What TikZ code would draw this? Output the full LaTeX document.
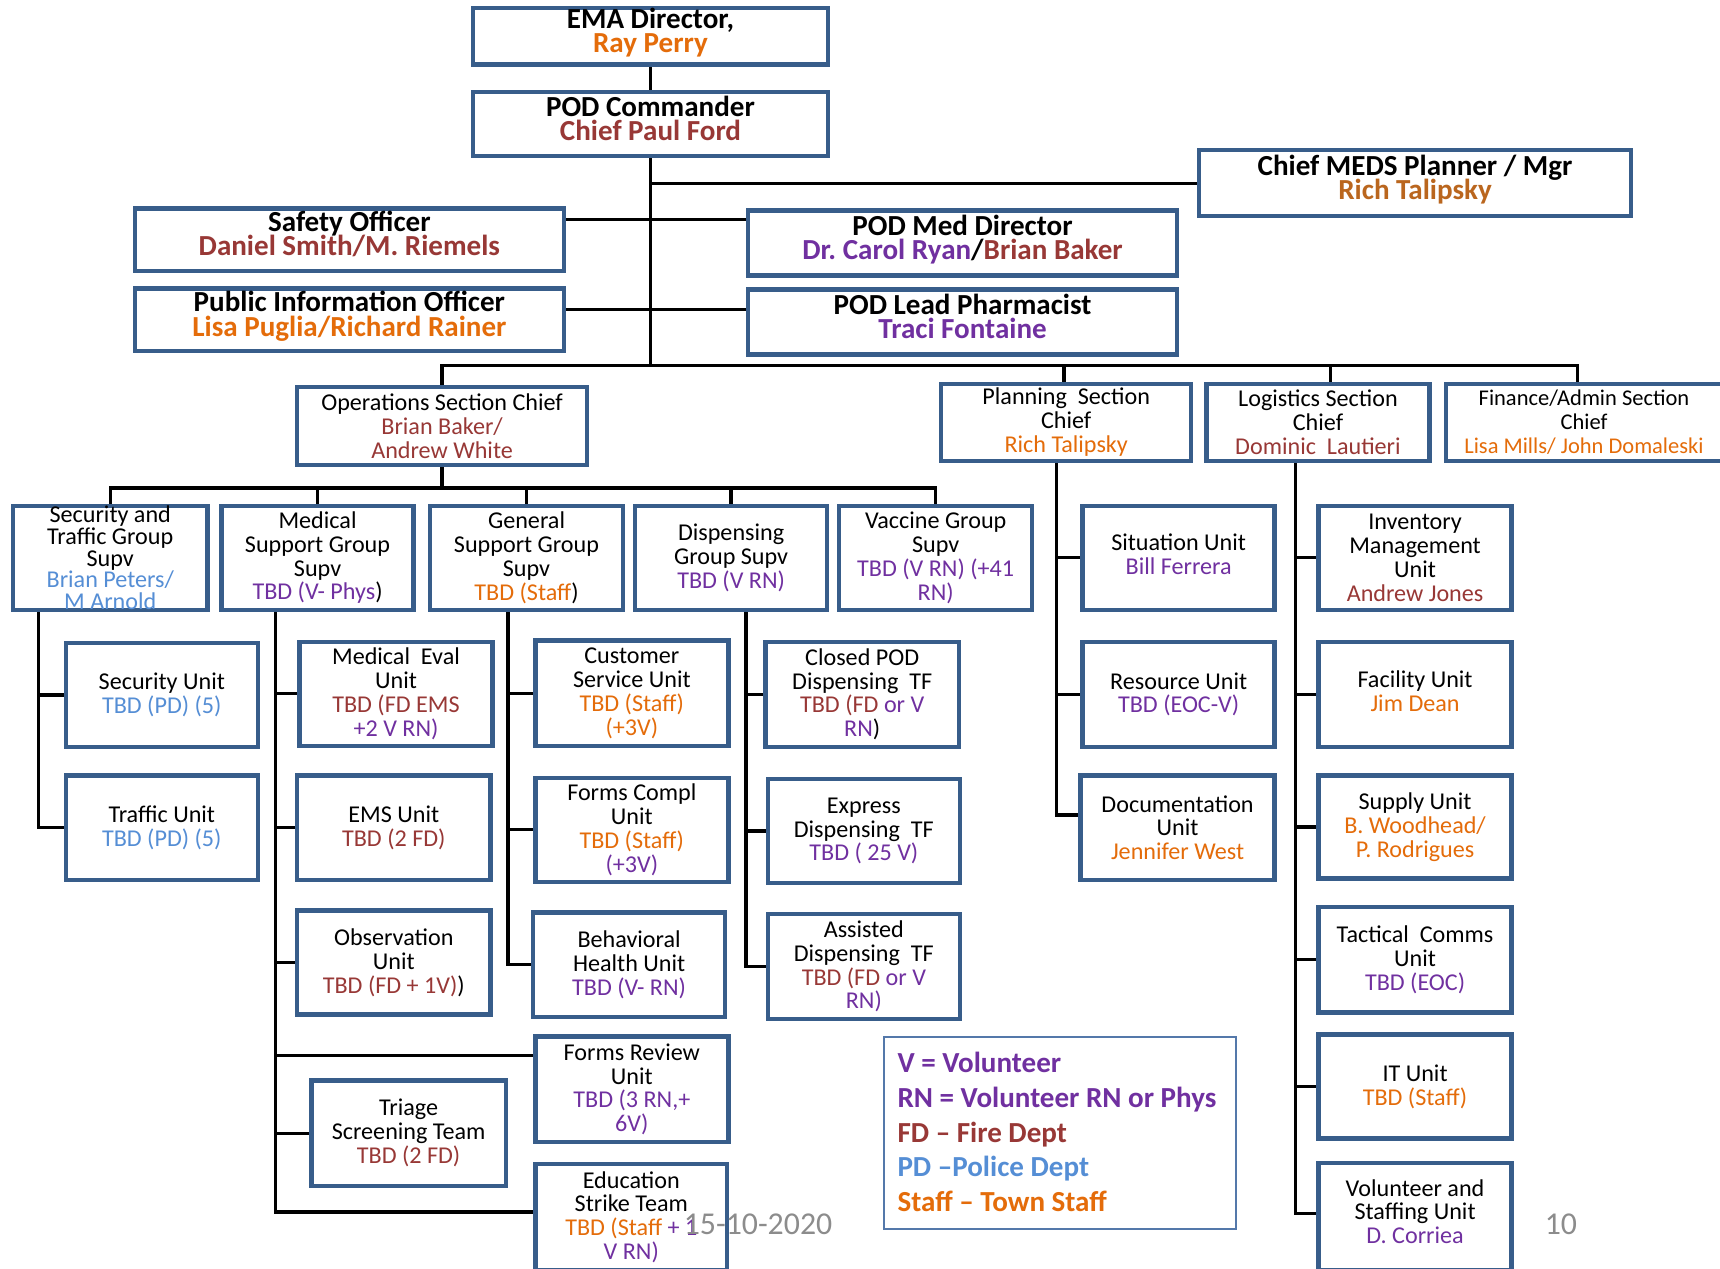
\documentclass[tikz,border=0pt]{standalone}
\usepackage{fontspec}
\setmainfont{Carlito}
\usetikzlibrary{backgrounds}
\frenchspacing
\definecolor{boxblue}{RGB}{56,93,138}
\definecolor{legblue}{RGB}{84,120,170}
\definecolor{corg}{RGB}{228,108,10}
\definecolor{cred}{RGB}{152,56,54}
\definecolor{cpur}{RGB}{112,48,160}
\definecolor{cblu}{RGB}{85,142,213}
\definecolor{cbrn}{RGB}{186,102,30}
\definecolor{cgry}{RGB}{140,140,140}
\newcommand{\cOr}[1]{\textcolor{corg}{#1}}
\newcommand{\cRd}[1]{\textcolor{cred}{#1}}
\newcommand{\cPu}[1]{\textcolor{cpur}{#1}}
\newcommand{\cBl}[1]{\textcolor{cblu}{#1}}
\newcommand{\cBr}[1]{\textcolor{cbrn}{#1}}
\newcommand{\orgTitleFont}{\lineskiplimit=-1000pt\lineskip=0pt\fontsize{26.5}{22}\selectfont\bfseries}
\newcommand{\orgUnitFont}{\lineskiplimit=-1000pt\lineskip=0pt\fontsize{22}{21.7}\selectfont}
\newcommand{\orgFinFont}{\lineskiplimit=-1000pt\lineskip=0pt\fontsize{20.5}{22}\selectfont}
\newcommand{\orgSecFont}{\lineskiplimit=-1000pt\lineskip=0pt\fontsize{22}{19.8}\selectfont}
\newcommand{\orgLegFont}{\lineskiplimit=-1000pt\lineskip=0pt\fontsize{26.5}{31.75}\selectfont\bfseries}
\newcommand{\orgbox}[7][ubox]{\node[#1,minimum width={(#5)-(#3)-4},minimum height={(#6)-(#4)-4}] (#2) at ({((#3)+(#5))/2},{((#4)+(#6))/2}) {#7};}
\newcommand{\orgtbox}[6]{\orgbox[tbox]{#1}{#2}{#3}{#4}{#5}{#6\rule[-11pt]{0pt}{0pt}}}
\begin{document}
\begin{tikzpicture}[x=1pt,y=-1pt,
  basebox/.style={draw=boxblue,line width=4pt,fill=white,inner sep=0pt,align=center},
  tbox/.style={basebox,font=\orgTitleFont},
  ubox/.style={basebox,font=\orgUnitFont},
  fbox/.style={basebox,font=\orgFinFont},
  sbox/.style={basebox,font=\orgSecFont},
  legbox/.style={draw=legblue,line width=1.8pt,fill=white,inner sep=0pt},
  legtext/.style={align=left,inner sep=0pt,font=\orgLegFont},
  pgtxt/.style={inner sep=0pt,text=cgry,font=\fontsize{29}{30}\selectfont},
  conn/.style={line width=3pt,black,line cap=rect,line join=miter}]
\useasboundingbox (0,0) rectangle (1568,1156);
% top level
\orgtbox{ema}{429}{8}{757}{58}{EMA Director,\\\cOr{Ray Perry}}
\orgtbox{cmd}{429}{82}{757}{144}{POD Commander\\\cRd{Chief Paul Ford}}
\orgtbox{meds}{1091}{135}{1489}{199}{Chief MEDS Planner / Mgr\\\cBr{Rich Talipsky}}
\orgtbox{safe}{121}{188}{516}{249}{Safety Officer\\\cRd{Daniel Smith/M. Riemels}}
\orgtbox{pio}{121}{261}{516}{322}{Public Information Officer\\\cOr{Lisa Puglia/Richard Rainer}}
\orgtbox{meddir}{680}{190}{1075}{253}{POD Med Director\\\cPu{Dr. Carol Ryan}/\cRd{Brian Baker}}
\orgtbox{pharm}{680}{262}{1075}{325}{POD Lead Pharmacist\\\cPu{Traci Fontaine}}
% sections
\orgbox{ops}{269}{351}{537}{426}{Operations Section Chief\\\cRd{Brian Baker/}\\\cRd{Andrew White}}
\orgbox{plan}{856}{348}{1088}{422}{Planning\ \ Section\\Chief\\\cOr{Rich Talipsky}}
\orgbox{logi}{1098}{348}{1305}{422}{Logistics Section\\Chief\\\cRd{Dominic\ \ Lautieri}}
\orgbox[fbox]{fin}{1316}{348}{1572}{422}{Finance/Admin Section\\Chief\\\cOr{Lisa Mills/ John Domaleski}}
% groups
\orgbox[sbox]{sec}{10}{459}{191}{558}{Security and\\Traffic Group\\Supv\\\cBl{Brian Peters/}\\\cBl{M Arnold}}
\orgbox{medg}{200}{459}{379}{558}{Medical\\Support Group\\Supv\\\cPu{TBD (V- Phys})}
\orgbox{geng}{390}{459}{570}{558}{General\\Support Group\\Supv\\\cOr{TBD (Staff})}
\orgbox{disg}{577}{459}{756}{558}{Dispensing\\Group Supv\\\cPu{TBD (V RN)}}
\orgbox{vacg}{763}{459}{943}{558}{Vaccine Group\\Supv\\\cPu{TBD (V RN) (+41}\\\cPu{RN)}}
% planning units
\orgbox{sit}{985}{459}{1164}{558}{Situation Unit\\\cPu{Bill Ferrera}\rule[-6pt]{0pt}{0pt}}
\orgbox{res}{985}{583}{1164}{683}{Resource Unit\\\cPu{TBD (EOC-V)}}
\orgbox{doc}{983}{705}{1164}{804}{Documentation\\Unit\\\cOr{Jennifer West}}
% logistics units
\orgbox{inv}{1200}{459}{1380}{558}{Inventory\\Management\\Unit\\\cRd{Andrew Jones}}
\orgbox{fac}{1200}{583}{1380}{683}{Facility\ Unit\\\cOr{Jim Dean}\rule[-6pt]{0pt}{0pt}}
\orgbox{sup}{1200}{705}{1380}{803}{Supply Unit\\\cOr{B. Woodhead/}\\\cOr{P. Rodrigues}}
\orgbox{tac}{1200}{825}{1380}{925}{Tactical\ \ Comms\\Unit\\\cPu{TBD (EOC)}}
\orgbox{itu}{1200}{941}{1380}{1040}{IT Unit\\\cOr{TBD (Staff)}}
\orgbox{vol}{1200}{1058}{1380}{1160}{Volunteer and\\Staffing\ Unit\\\cPu{D. Corriea}\rule[-9pt]{0pt}{0pt}}
% security units
\orgbox{secu}{58}{584}{237}{683}{Security Unit\\\cBl{TBD (PD) (5)}}
\orgbox{traf}{58}{705}{237}{804}{Traffic Unit\\\cBl{TBD (PD) (5)}}
% medical units
\orgbox{meval}{271}{583}{451}{682}{Medical\ \ Eval\\Unit\\\cRd{TBD (FD EMS}\\\cPu{+2 V RN)}}
\orgbox{ems}{269}{705}{449}{804}{EMS Unit\\\cRd{TBD (2 FD)}}
\orgbox{obs}{269}{828}{449}{927}{Observation\\Unit\\\cRd{TBD (FD + 1V)})}
\orgbox{tri}{282}{983}{463}{1083}{Triage\\Screening Team\\\cRd{TBD (2 FD)}}
% general units
\orgbox{cust}{486}{582}{666}{682}{Customer\\Service Unit\\\cOr{TBD (Staff)}\\\cOr{(+3V)}}
\orgbox{fcom}{486}{707}{666}{806}{Forms Compl\\Unit\\\cOr{TBD (Staff)}\\\cPu{(+3V)}}
\orgbox{beh}{484}{830}{663}{929}{Behavioral\\Health Unit\\\cPu{TBD (V- RN)}}
\orgbox{frev}{486}{943}{666}{1043}{Forms Review\\Unit\\\cPu{TBD (3 RN,+}\\\cPu{6V)}}
\orgbox{edu}{486}{1059}{665}{1160}{Education\\Strike Team\\\cOr{TBD (Staff} \cPu{+ 1}\\\cPu{V RN)}}
% dispensing units
\orgbox{cpod}{696}{583}{876}{683}{Closed POD\\Dispensing\ \ TF\\\cRd{TBD (FD} \cPu{or V}\\\cPu{RN})}
\orgbox{expr}{698}{708}{877}{807}{Express\\Dispensing\ \ TF\\\cPu{TBD ( 25 V)}}
\orgbox{asst}{698}{831}{877}{931}{Assisted\\Dispensing\ \ TF\\\cRd{TBD (FD} \cPu{or V}\\\cPu{RN)}}
% legend
\node[legbox,minimum width=321,minimum height=175] (leg) at (966.5,1032.5) {};
\node[legtext,anchor=west] (legtxt) at (818,1032) {\cPu{V = Volunteer}\\\cPu{RN = Volunteer RN or Phys}\\\cRd{FD – Fire Dept}\\\cBl{PD –Police Dept}\\\cOr{Staff – Town Staff}};
% footer
\node[pgtxt] (date) at (691,1116) {15-10-2020};
\node[pgtxt] (pnum) at (1423,1116) {10};
% connectors
\coordinate (busY) at (0,333);
\coordinate (opsY) at (0,445);
\coordinate (offA) at (0,200);
\coordinate (offB) at (0,282);
\coordinate (dOps) at (403,333);
\coordinate (dPlan) at (970,333);
\coordinate (dLog) at (1213,333);
\coordinate (dFin) at (1438,333);
\coordinate (vSec) at (35,0);
\coordinate (vMed) at (251,0);
\coordinate (vGen) at (463,0);
\coordinate (vDis) at (680,0);
\coordinate (vPlan) at (963,0);
\coordinate (vLog) at (1181,0);
\coordinate (docL) at (0,743);
\coordinate (volL) at (0,1106);
\coordinate (frevL) at (0,962);
\coordinate (eduL) at (0,1105);
\begin{pgfonlayer}{background}
\draw[conn] (ema.south) -- (cmd.north);
\draw[conn] (cmd.south) -- (cmd.south |- busY);
\draw[conn] (cmd.south |- meds.west) -- (meds.west);
\draw[conn] (safe.east |- offA) -- (meddir.west |- offA);
\draw[conn] (pio.east |- offB) -- (pharm.west |- offB);
\draw[conn] (ops.north) -- (dOps) -- (dFin) -- (dFin |- fin.north);
\draw[conn] (dPlan) -- (dPlan |- plan.north);
\draw[conn] (dLog) -- (dLog |- logi.north);
% operations bus
\draw[conn] (ops.south) -- (ops.south |- opsY);
\draw[conn] (sec.north) -- (sec.north |- opsY) -- (vacg.north |- opsY) -- (vacg.north);
\draw[conn] (medg.north |- opsY) -- (medg.north);
\draw[conn] (geng.north |- opsY) -- (geng.north);
\draw[conn] (disg.north |- opsY) -- (disg.north);
% security
\draw[conn] (vSec |- sec.south) -- (vSec |- traf.west) -- (traf.west);
\draw[conn] (vSec |- secu.west) -- (secu.west);
% medical
\draw[conn] (vMed |- medg.south) -- (vMed |- eduL) -- (edu.west |- eduL);
\draw[conn] (vMed |- meval.west) -- (meval.west);
\draw[conn] (vMed |- ems.west) -- (ems.west);
\draw[conn] (vMed |- obs.west) -- (obs.west);
\draw[conn] (vMed |- frevL) -- (frev.west |- frevL);
\draw[conn] (vMed |- tri.west) -- (tri.west);
% general
\draw[conn] (vGen |- geng.south) -- (vGen |- beh.west) -- (beh.west);
\draw[conn] (vGen |- cust.west) -- (cust.west);
\draw[conn] (vGen |- fcom.west) -- (fcom.west);
% dispensing
\draw[conn] (vDis |- disg.south) -- (vDis |- asst.west) -- (asst.west);
\draw[conn] (vDis |- cpod.west) -- (cpod.west);
\draw[conn] (vDis |- expr.west) -- (expr.west);
% planning
\draw[conn] (vPlan |- plan.south) -- (vPlan |- docL) -- (doc.west |- docL);
\draw[conn] (vPlan |- sit.west) -- (sit.west);
\draw[conn] (vPlan |- res.west) -- (res.west);
% logistics
\draw[conn] (vLog |- logi.south) -- (vLog |- volL) -- (vol.west |- volL);
\draw[conn] (vLog |- inv.west) -- (inv.west);
\draw[conn] (vLog |- fac.west) -- (fac.west);
\draw[conn] (vLog |- sup.west) -- (sup.west);
\draw[conn] (vLog |- tac.west) -- (tac.west);
\draw[conn] (vLog |- itu.west) -- (itu.west);
\end{pgfonlayer}
\end{tikzpicture}
\end{document}
